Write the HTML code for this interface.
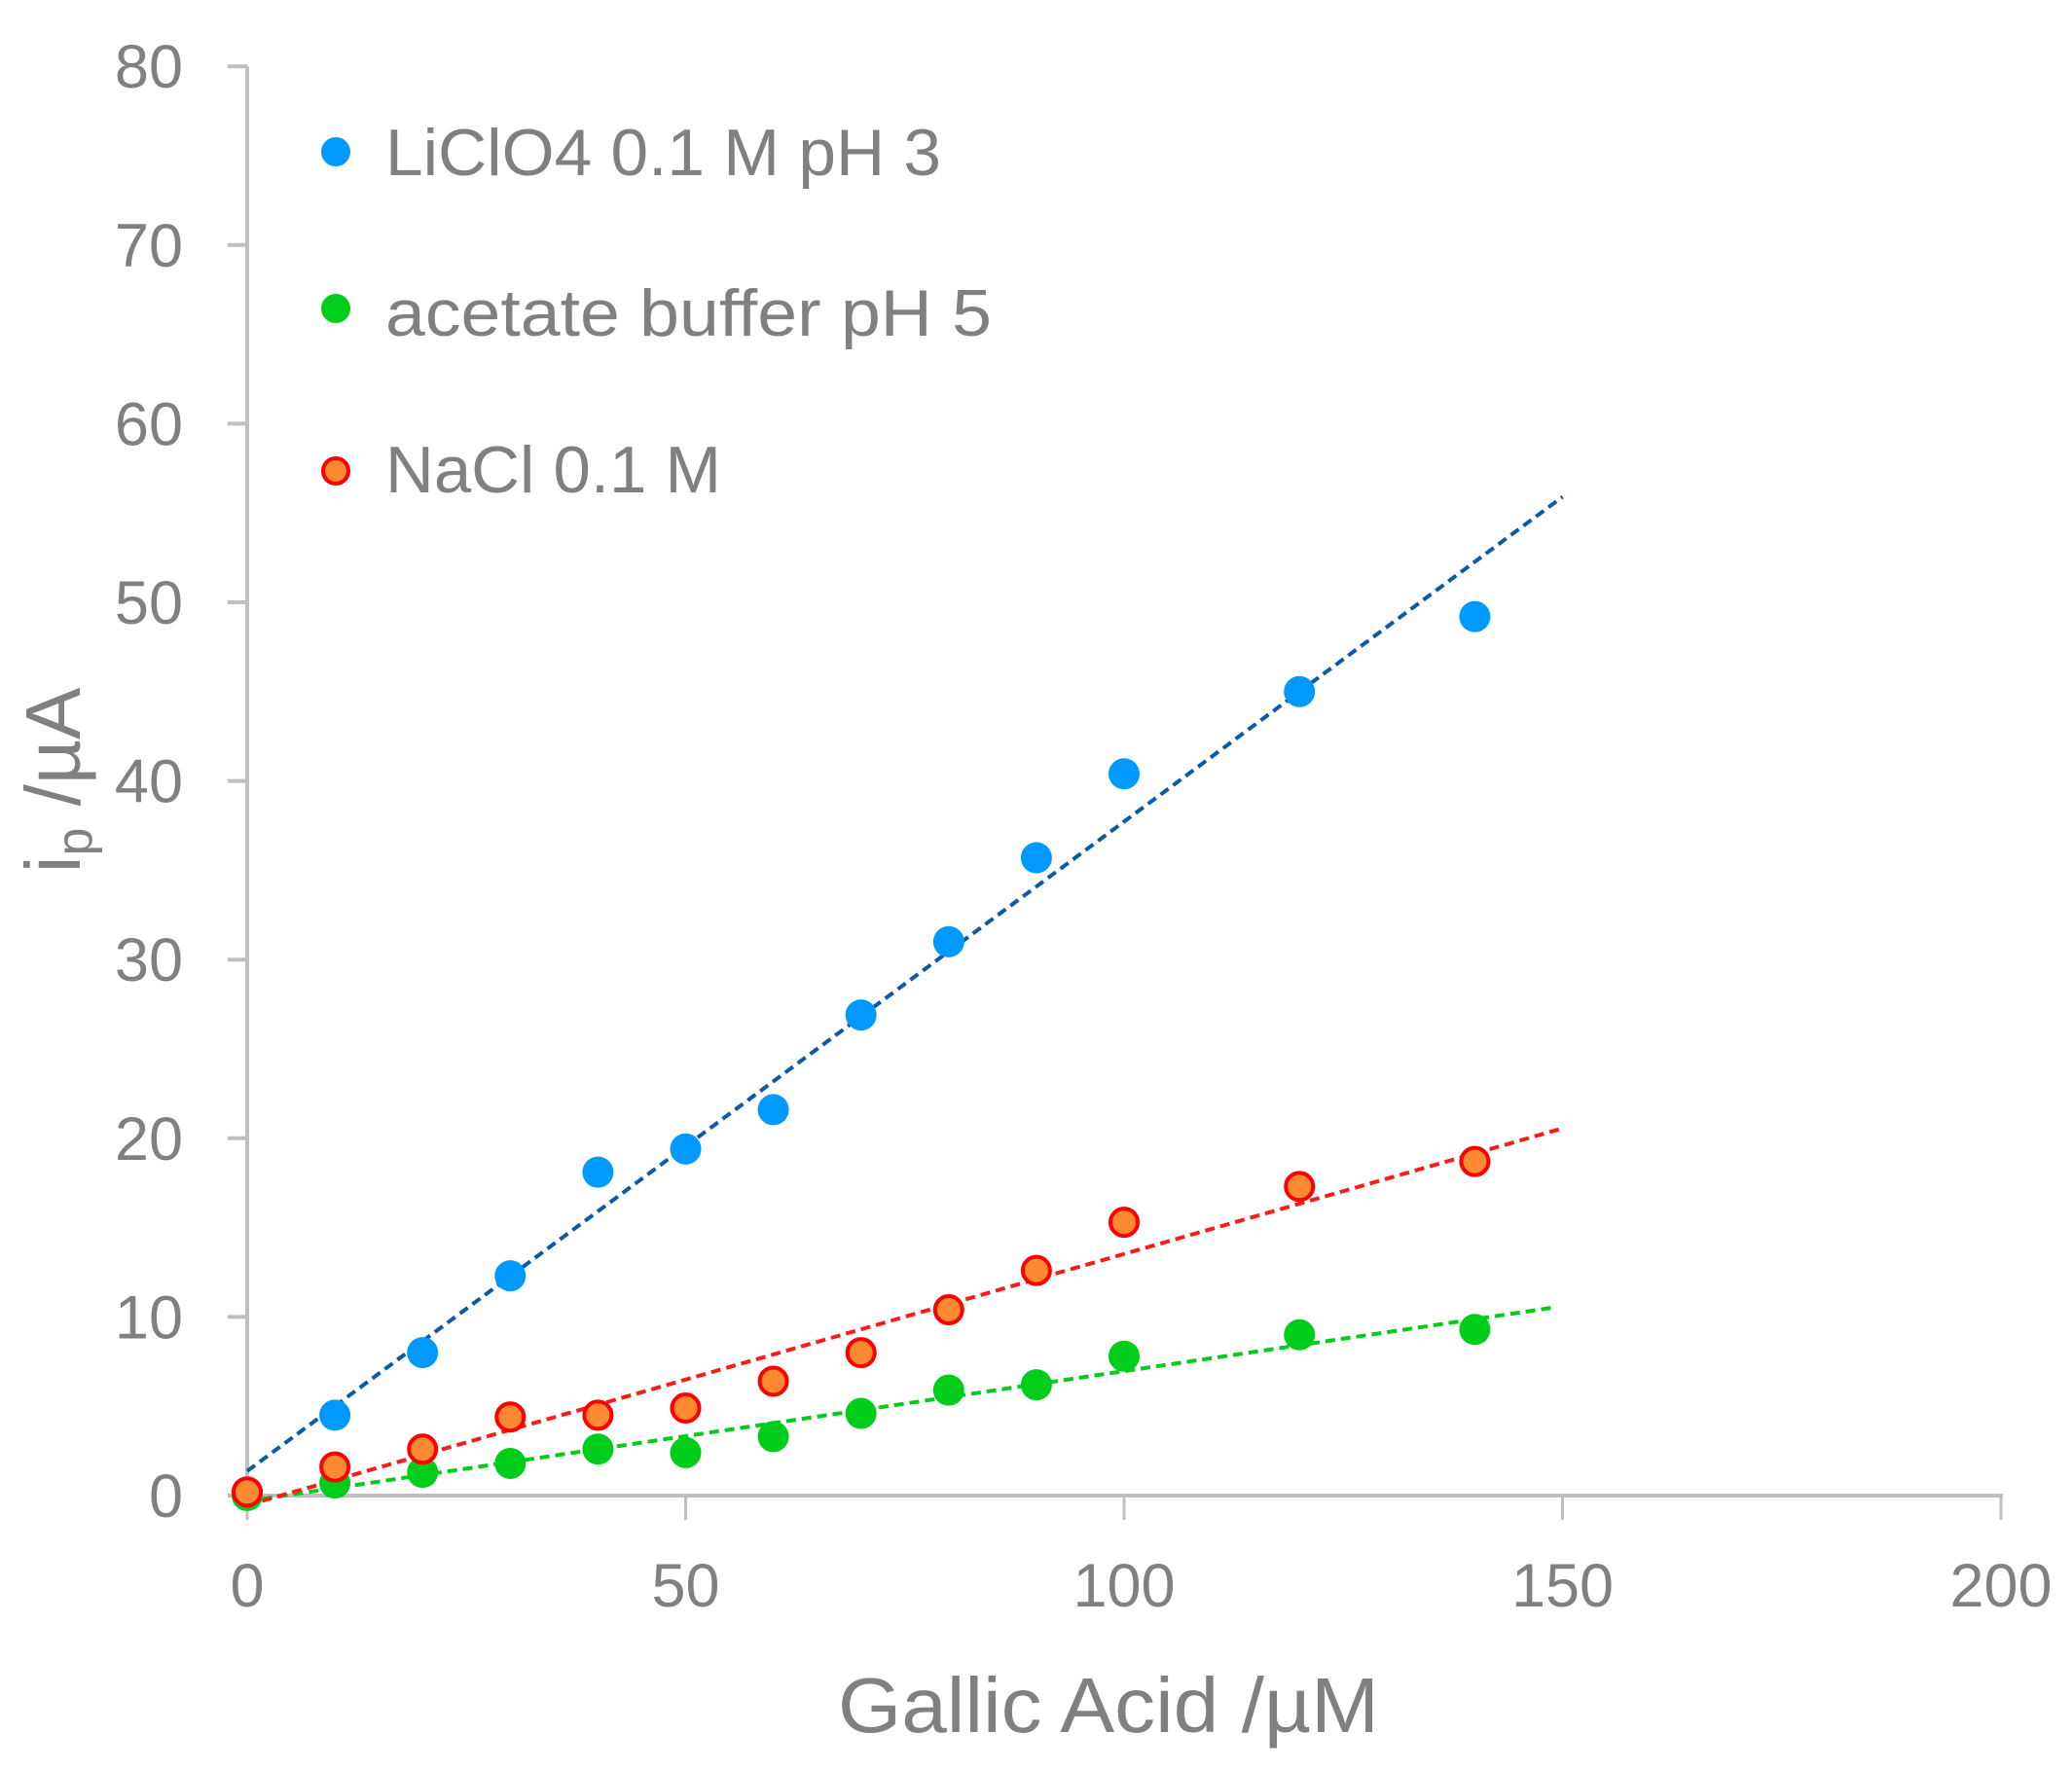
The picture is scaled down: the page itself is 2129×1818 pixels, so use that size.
<!DOCTYPE html>
<html><head><meta charset="utf-8"><style>
html,body{margin:0;padding:0;background:#fff;}
svg{display:block;font-family:"Liberation Sans",sans-serif;}
</style></head><body>
<svg id="chart" width="2129" height="1818" viewBox="0 0 2129 1818" xmlns="http://www.w3.org/2000/svg">
<rect width="2129" height="1818" fill="#fff"/>
<g id="axes"></g>
<g id="trends"></g>
<g id="points"></g>
<text x="1139" y="1780" font-size="80" fill="#808080" text-anchor="middle" textLength="556" lengthAdjust="spacingAndGlyphs">Gallic Acid /µM</text>
<text transform="translate(82,802) rotate(-90)" font-size="80" fill="#808080" text-anchor="middle">i<tspan font-size="52" dy="12">p</tspan><tspan dy="-12"> /µA</tspan></text>
<g>
<circle cx="345" cy="156" r="15" fill="#0099ff"/>
<text x="396" y="180" font-size="68" fill="#808080" textLength="571" lengthAdjust="spacingAndGlyphs">LiClO4 0.1 M pH 3</text>
<circle cx="345" cy="317" r="15" fill="#00cc1a"/>
<text x="396" y="345" font-size="68" fill="#808080" textLength="623" lengthAdjust="spacingAndGlyphs">acetate buffer pH 5</text>
<circle cx="345" cy="484" r="13" fill="#ff8833" stroke="#ff0000" stroke-width="4"/>
<text x="396" y="506" font-size="68" fill="#808080" textLength="345" lengthAdjust="spacingAndGlyphs">NaCl 0.1 M</text>
</g>
</svg>
<script>
const xCats = [0,10,20,30,40,50,60,70,80,90,100,120,140];
const liclo4 = [0.2,4.5,8.0,12.3,18.1,19.4,21.6,26.9,31.0,35.7,40.4,45.0,49.2];
const acetate = [0.0,0.7,1.3,1.8,2.6,2.4,3.3,4.6,5.9,6.2,7.8,9.0,9.3];
const nacl = [0.2,1.6,2.6,4.4,4.5,4.9,6.4,8.0,10.4,12.6,15.3,17.3,18.7];
const xTicks = [0,50,100,150,200];
const yTicks = [0,10,20,30,40,50,60,70,80];

const NS='http://www.w3.org/2000/svg';
function X(v){return 254+v*9.01;}
function Y(v){return 1537-v*18.36;}
function mk(tag,attrs,parent){const e=document.createElementNS(NS,tag);for(const k in attrs)e.setAttribute(k,attrs[k]);parent.appendChild(e);return e;}
const axes=document.getElementById('axes');
let e=mk('line',{x1:X(0),y1:Y(0),x2:X(0),y2:Y(80),stroke:'#bfbfbf','stroke-width':4},axes);


e=mk('line',{x1:X(0)-2,y1:Y(0),x2:X(200)+2,y2:Y(0),stroke:'#bfbfbf','stroke-width':4},axes);


yTicks.forEach(t=>{
  let l=mk('line',{x1:X(0)-20,y1:Y(t),x2:X(0),y2:Y(t),stroke:'#bfbfbf','stroke-width':4},axes);
  
  
  let tx=mk('text',{x:188,y:Y(t)+22,'font-size':63,fill:'#808080','text-anchor':'end'},axes);
  tx.textContent=t;
  
  
});
xTicks.forEach(t=>{
  let l=mk('line',{x1:X(t),y1:Y(0),x2:X(t),y2:Y(0)+25,stroke:'#bfbfbf','stroke-width':3},axes);
  
  
  let tx=mk('text',{x:X(t),y:1651,'font-size':63,fill:'#808080','text-anchor':'middle'},axes);
  tx.textContent=t;
  
  
});
function fit(xs,ys){const n=xs.length;let sx=0,sy=0,sxx=0,sxy=0;for(let i=0;i<n;i++){sx+=xs[i];sy+=ys[i];sxx+=xs[i]*xs[i];sxy+=xs[i]*ys[i];}const m=(n*sxy-sx*sy)/(n*sxx-sx*sx);return {m:m,b:(sy-m*sx)/n};}
const trends=document.getElementById('trends');
const pts=document.getElementById('points');
const series=[
 {name:'liclo4',vals:liclo4,trend:'#0b5aa8',end:150,fill:'#0099ff',stroke:null},
 {name:'acetate',vals:acetate,trend:'#00cc1a',end:149,fill:'#00cc1a',stroke:null},
 {name:'nacl',vals:nacl,trend:'#ff1a1a',end:150,fill:'#ff8833',stroke:'#ff0000'}
];
series.forEach(s=>{
  const f=fit(xCats,s.vals);
  let l=mk('line',{x1:X(0),y1:Y(f.b),x2:X(s.end),y2:Y(f.b+f.m*s.end),stroke:s.trend,'stroke-width':4,'stroke-dasharray':'10 6'},trends);
  
  
});
[series[0],series[1],series[2]].forEach(s=>{
  s.vals.forEach((v,i)=>{
    const a={cx:X(xCats[i]),cy:Y(v),r:s.stroke?14:16,fill:s.fill};
    if(s.stroke){a.stroke=s.stroke;a['stroke-width']=4;}
    let c=mk('circle',a,pts);
    
    
  });
});
</script>
</body></html>
